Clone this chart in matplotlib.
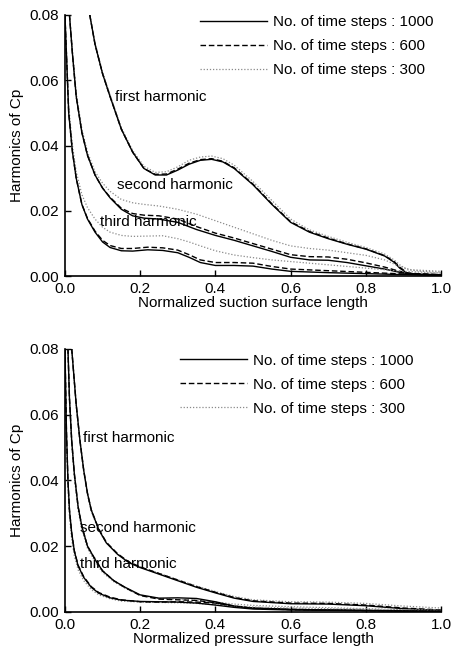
import matplotlib
matplotlib.use("Agg")
import matplotlib.pyplot as plt
from matplotlib.ticker import FormatStrFormatter

plt.rcParams['font.family'] = ['Liberation Sans', 'DejaVu Sans']
plt.rcParams['font.size'] = 11

# ---------------- Suction surface (top) ----------------
X1T = [0.066, 0.08, 0.10, 0.12, 0.15, 0.18, 0.21, 0.24, 0.27, 0.30, 0.33, 0.36, 0.39, 0.42,
       0.45, 0.50, 0.55, 0.60, 0.65, 0.70, 0.75, 0.80, 0.85, 0.875, 0.89, 0.91, 0.95, 1.0]
Y1T_1000 = [0.080, 0.071, 0.062, 0.055, 0.045, 0.038, 0.033, 0.031, 0.031, 0.0325, 0.0343, 0.0355,
            0.0358, 0.035, 0.033, 0.028, 0.022, 0.0165, 0.0135, 0.0115, 0.0098, 0.0083, 0.0062,
            0.0043, 0.0025, 0.0009, 0.0006, 0.0005]
Y1T_600 = [0.080, 0.071, 0.062, 0.055, 0.045, 0.038, 0.033, 0.0312, 0.0313, 0.0328, 0.0346, 0.0357,
           0.036, 0.0352, 0.0332, 0.0282, 0.0222, 0.0167, 0.0137, 0.0117, 0.0099, 0.0084, 0.0063,
           0.0045, 0.0028, 0.001, 0.0007, 0.0005]
Y1T_300 = [0.080, 0.0715, 0.0625, 0.0555, 0.0455, 0.0385, 0.0337, 0.0318, 0.032, 0.0335, 0.0355,
           0.0365, 0.0368, 0.036, 0.034, 0.029, 0.0232, 0.0175, 0.0142, 0.0122, 0.0104, 0.0088,
           0.0068, 0.005, 0.0035, 0.002, 0.0015, 0.0012]

X2T = [0.012, 0.02, 0.03, 0.045, 0.06, 0.08, 0.10, 0.12, 0.15, 0.18, 0.21, 0.25, 0.30, 0.35,
       0.40, 0.45, 0.50, 0.55, 0.60, 0.65, 0.70, 0.75, 0.80, 0.85, 0.89, 0.92, 1.0]
Y2T_1000 = [0.080, 0.068, 0.055, 0.044, 0.037, 0.031, 0.027, 0.024, 0.0205, 0.0185, 0.0178, 0.0175,
            0.0165, 0.0143, 0.0125, 0.011, 0.0093, 0.0076, 0.0058, 0.005, 0.0049, 0.0042, 0.0032,
            0.0022, 0.0012, 0.0006, 0.0003]
Y2T_600 = [0.080, 0.068, 0.055, 0.044, 0.037, 0.031, 0.027, 0.0242, 0.0208, 0.0192, 0.0187, 0.0185,
           0.0175, 0.0152, 0.0132, 0.0117, 0.010, 0.0083, 0.0066, 0.006, 0.0059, 0.0052, 0.0041,
           0.0028, 0.0015, 0.0008, 0.0004]
Y2T_300 = [0.080, 0.069, 0.056, 0.045, 0.038, 0.032, 0.0285, 0.026, 0.0235, 0.0225, 0.022, 0.0215,
           0.0205, 0.019, 0.017, 0.015, 0.013, 0.011, 0.0093, 0.0085, 0.008, 0.0072, 0.0064,
           0.005, 0.003, 0.002, 0.0015]

X3T = [0.0, 0.005, 0.01, 0.02, 0.03, 0.045, 0.06, 0.08, 0.10, 0.12, 0.15, 0.18, 0.22, 0.26,
       0.30, 0.33, 0.36, 0.40, 0.45, 0.50, 0.55, 0.60, 0.70, 0.80, 0.90, 1.0]
Y3T_1000 = [0.080, 0.065, 0.050, 0.038, 0.030, 0.022, 0.0175, 0.0135, 0.0105, 0.0088, 0.0078,
            0.0077, 0.0081, 0.0079, 0.0072, 0.0058, 0.0042, 0.0033, 0.0033, 0.0031, 0.0022,
            0.0015, 0.0011, 0.0008, 0.0005, 0.0003]
Y3T_600 = [0.080, 0.065, 0.050, 0.038, 0.030, 0.022, 0.0177, 0.0138, 0.011, 0.0094, 0.0085,
           0.0085, 0.0089, 0.0087, 0.008, 0.0066, 0.005, 0.0042, 0.0042, 0.004, 0.003, 0.0022,
           0.0017, 0.0012, 0.0007, 0.0004]
Y3T_300 = [0.080, 0.066, 0.052, 0.040, 0.032, 0.025, 0.021, 0.0175, 0.015, 0.0135, 0.0125,
           0.0122, 0.0123, 0.0124, 0.0115, 0.0105, 0.0093, 0.0078, 0.0065, 0.0057, 0.005,
           0.0045, 0.0035, 0.0025, 0.0015, 0.001]

# ---------------- Pressure surface (bottom) ----------------
X1B = [0.018, 0.025, 0.03, 0.04, 0.05, 0.06, 0.07, 0.09, 0.11, 0.14, 0.17, 0.20, 0.25, 0.30,
       0.35, 0.40, 0.45, 0.50, 0.60, 0.70, 0.80, 0.90, 1.0]
Y1B_1000 = [0.080, 0.070, 0.063, 0.052, 0.043, 0.036, 0.031, 0.025, 0.021, 0.0175, 0.015, 0.0135,
            0.0115, 0.0095, 0.0075, 0.0058, 0.0042, 0.0032, 0.0025, 0.0024, 0.0019, 0.001, 0.0005]
Y1B_600 = [0.080, 0.070, 0.063, 0.052, 0.043, 0.036, 0.031, 0.0252, 0.0212, 0.0177, 0.0152, 0.0137,
           0.0117, 0.0097, 0.0077, 0.006, 0.0044, 0.0034, 0.0027, 0.0026, 0.0021, 0.0012, 0.0006]
Y1B_300 = [0.080, 0.070, 0.0625, 0.0515, 0.0425, 0.0355, 0.0305, 0.0248, 0.021, 0.0176, 0.0152,
           0.0137, 0.0118, 0.0098, 0.0079, 0.0062, 0.0047, 0.0037, 0.0031, 0.003, 0.0026, 0.0018, 0.0012]

X2B = [0.008, 0.012, 0.018, 0.025, 0.035, 0.045, 0.06, 0.08, 0.10, 0.13, 0.16, 0.20, 0.25, 0.30,
       0.35, 0.40, 0.45, 0.50, 0.60, 0.70, 0.80, 0.90, 1.0]
Y2B_1000 = [0.080, 0.065, 0.052, 0.042, 0.032, 0.026, 0.020, 0.016, 0.0125, 0.0095, 0.0075, 0.0052,
            0.0042, 0.0043, 0.0041, 0.0031, 0.0018, 0.0012, 0.0008, 0.0006, 0.0005, 0.0003, 0.0002]
Y2B_600 = [0.080, 0.065, 0.052, 0.042, 0.032, 0.026, 0.020, 0.016, 0.0125, 0.0095, 0.0074, 0.005,
           0.0039, 0.0037, 0.0035, 0.0028, 0.0017, 0.0012, 0.0008, 0.0006, 0.0005, 0.0003, 0.0002]
Y2B_300 = [0.080, 0.064, 0.051, 0.041, 0.031, 0.025, 0.0193, 0.0153, 0.012, 0.0092, 0.0072, 0.0051,
           0.0041, 0.0038, 0.0035, 0.003, 0.0024, 0.002, 0.0016, 0.0013, 0.001, 0.0007, 0.0005]

X3B = [0.0, 0.004, 0.008, 0.012, 0.018, 0.025, 0.035, 0.05, 0.07, 0.09, 0.12, 0.15, 0.20, 0.25,
       0.30, 0.35, 0.40, 0.45, 0.50, 0.60, 0.80, 1.0]
Y3B_1000 = [0.080, 0.055, 0.040, 0.031, 0.024, 0.0185, 0.014, 0.0105, 0.0075, 0.0057, 0.0043,
            0.0036, 0.0032, 0.0031, 0.003, 0.0027, 0.0021, 0.0014, 0.0009, 0.0006, 0.0004, 0.0002]
Y3B_600 = [0.080, 0.055, 0.040, 0.031, 0.024, 0.0186, 0.0142, 0.0107, 0.0077, 0.0059, 0.0045,
           0.0037, 0.0031, 0.003, 0.0031, 0.003, 0.0027, 0.0018, 0.0011, 0.0007, 0.0004, 0.0002]
Y3B_300 = [0.080, 0.053, 0.038, 0.029, 0.022, 0.017, 0.0128, 0.0095, 0.0068, 0.0052, 0.004,
           0.0033, 0.003, 0.0029, 0.0028, 0.0026, 0.0022, 0.0018, 0.0015, 0.0012, 0.0008, 0.0005]

LEGEND_LABELS = ["No. of time steps : 1000", "No. of time steps : 600", "No. of time steps : 300"]
HARMONIC_LABELS = ["first harmonic", "second harmonic", "third harmonic"]
TOP_LABEL_POS = [(0.133, 0.0549), (0.138, 0.0279), (0.093, 0.0166)]
BOT_LABEL_POS = [(0.048, 0.0528), (0.040, 0.0255), (0.040, 0.0146)]
XTICKS = [0.0, 0.2, 0.4, 0.6, 0.8, 1.0]
YTICKS = [0.00, 0.02, 0.04, 0.06, 0.08]

STYLES = [dict(color='black', lw=1.0, ls='-'),
          dict(color='black', lw=1.0, ls=(0, (4, 2))),
          dict(color='#8a8a8a', lw=0.9, ls=(0, (1, 1.5)))]

fig = plt.figure(figsize=(4.51, 6.5), dpi=100)
ax_top = fig.add_axes([0.144, 0.575, 0.834, 0.402])
ax_bot = fig.add_axes([0.144, 0.0585, 0.834, 0.405])

top_series = [(X1T, [Y1T_1000, Y1T_600, Y1T_300]),
              (X2T, [Y2T_1000, Y2T_600, Y2T_300]),
              (X3T, [Y3T_1000, Y3T_600, Y3T_300])]
bot_series = [(X1B, [Y1B_1000, Y1B_600, Y1B_300]),
              (X2B, [Y2B_1000, Y2B_600, Y2B_300]),
              (X3B, [Y3B_1000, Y3B_600, Y3B_300])]


def draw(ax, series, label_pos, xlabel, leg_anchor):
    handles = []
    for hi, (xs, ys_list) in enumerate(series):
        for si in (2, 1, 0):
            ln, = ax.plot(xs, ys_list[si], **STYLES[si])
            if hi == 0:
                handles.append((si, ln))
    handles = [h for _, h in sorted(handles, key=lambda t: t[0])]
    for (tx, ty), lab in zip(label_pos, HARMONIC_LABELS):
        ax.text(tx, ty, lab, fontsize=11, va='center', ha='left')
    ax.set_xlim(0, 1.0)
    ax.set_ylim(0, 0.08)
    ax.set_xticks(XTICKS)
    ax.set_yticks(YTICKS)
    ax.xaxis.set_major_formatter(FormatStrFormatter('%.1f'))
    ax.yaxis.set_major_formatter(FormatStrFormatter('%.2f'))
    ax.tick_params(direction='in', length=4, width=1, labelsize=11, pad=4)
    for s in ('top', 'right'):
        ax.spines[s].set_visible(False)
    for s in ('left', 'bottom'):
        ax.spines[s].set_linewidth(1.2)
    ax.set_xlabel(xlabel, fontsize=11, labelpad=0)
    ax.set_ylabel("Harmonics of Cp", fontsize=11, labelpad=4)
    ax.legend(handles, LEGEND_LABELS, loc='upper left', bbox_to_anchor=leg_anchor,
              frameon=False, handlelength=4.4, handletextpad=0.4, labelspacing=0.65,
              borderpad=0, borderaxespad=0, fontsize=11)


draw(ax_top, top_series, TOP_LABEL_POS, "Normalized suction surface length", (0.359, 0.998))
draw(ax_bot, bot_series, BOT_LABEL_POS, "Normalized pressure surface length", (0.306, 0.981))

fig.savefig("out.png", dpi=100)
